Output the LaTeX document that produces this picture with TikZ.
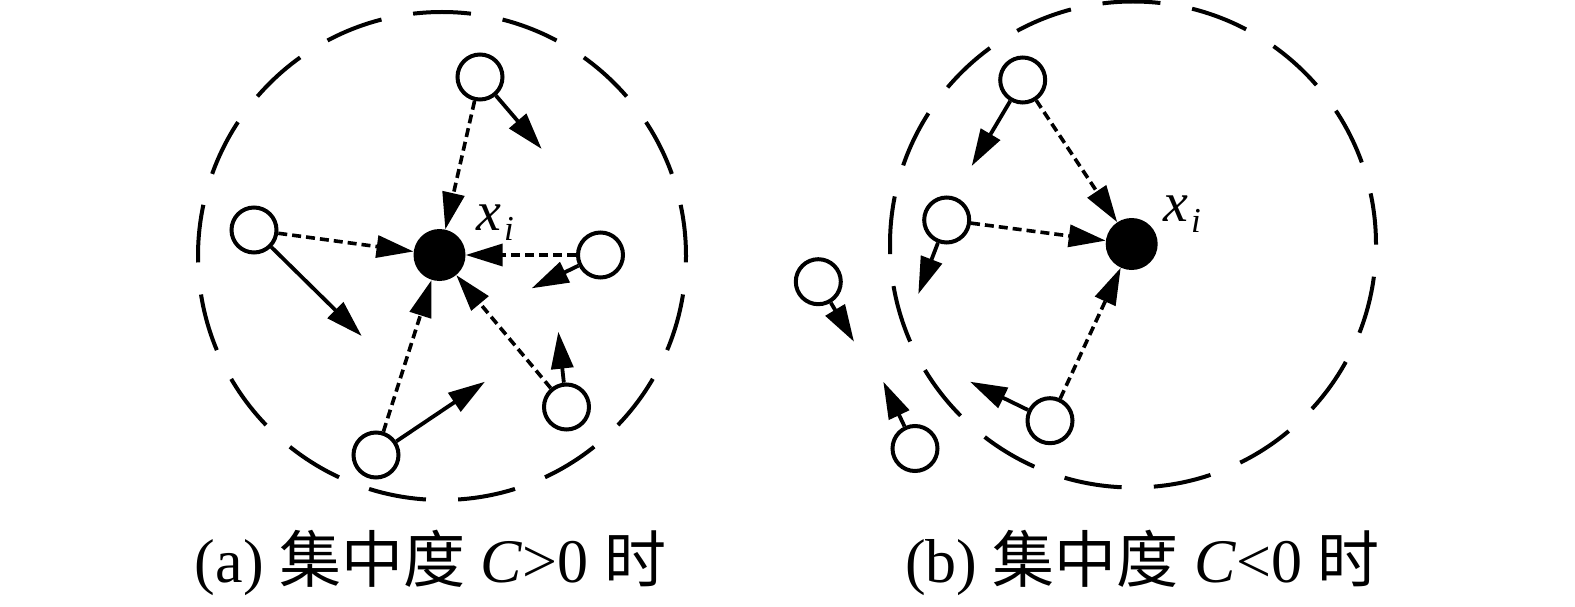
\documentclass[tikz,border=0pt]{standalone}
\usepackage{fontspec}
\setmainfont{Liberation Serif}
\newfontfamily\cjk{Noto Sans CJK SC}
\usetikzlibrary{arrows.meta}
\begin{document}
\begin{tikzpicture}[x=1pt,y=-1pt,
  wnode/.style={circle,draw,line width=4pt,fill=white,minimum size=45pt,inner sep=0pt},
  bnode/.style={circle,fill=black,minimum size=52pt,inner sep=0pt},
  region/.style={line width=4pt,dash pattern=on 58pt off 32.2pt,dash phase=6.5pt},
  pull/.style={line width=3.6pt,dash pattern=on 9pt off 5pt,-{Triangle[length=37pt,width=22pt]}},
  move/.style={line width=3.8pt,-{Triangle[length=37pt,width=22pt]}},
  lab/.style={inner sep=0pt,anchor=base west,font=\fontsize{56}{60}\selectfont\itshape},
  captext/.style={inner sep=0pt,anchor=base,font=\fontsize{62}{70}\selectfont}]
\useasboundingbox (0,0) rectangle (1575,607);
\fill[white] (0,0) rectangle (1575,607);
% regions
\draw[region] (442,256) circle[radius=244pt];
\draw[region] (1133,244.5) circle[radius=243pt];
% left diagram
\node[bnode] (xa) at (439.5,255) {};
\node[wnode] (a1) at (480,77) {};
\node[wnode] (a2) at (254,230) {};
\node[wnode] (a3) at (600.5,255) {};
\node[wnode] (a4) at (566.5,407) {};
\node[wnode] (a5) at (376,455) {};
\coordinate (e1) at (541.7,149);
\coordinate (e2) at (361.7,336);
\coordinate (e3) at (531.7,288.3);
\coordinate (e4) at (558.3,331.7);
\coordinate (e5) at (485,381.7);
\foreach \n in {a1,a2,a3,a4,a5} \draw[pull] (\n) -- (xa);
\draw[move] (a1) -- (e1);
\draw[move] (a2) -- (e2);
\draw[move] (a3) -- (e3);
\draw[move] (a4) -- (e4);
\draw[move] (a5) -- (e5);
\node[lab] (la) at (476,230) {x\kern3pt\raisebox{-10pt}{\fontsize{35}{36}\selectfont i}};
% right diagram
\node[bnode] (xb) at (1131.7,244) {};
\node[wnode] (b1) at (1022.7,80) {};
\node[wnode] (b2) at (946.7,220) {};
\node[wnode] (b3) at (1050,420.7) {};
\node[wnode] (b4) at (915,448.5) {};
\node[wnode] (b5) at (818.3,281.7) {};
\coordinate (f1) at (971.7,166);
\coordinate (f2) at (918.3,294);
\coordinate (f3) at (970,381.7);
\coordinate (f4) at (883.3,381.7);
\coordinate (f5) at (854,341.7);
\foreach \n in {b1,b2,b3} \draw[pull] (\n) -- (xb);
\draw[move] (b1) -- (f1);
\draw[move] (b2) -- (f2);
\draw[move] (b3) -- (f3);
\draw[move] (b4) -- (f4);
\draw[move] (b5) -- (f5);
\node[lab] (lb) at (1163,222) {x\kern3pt\raisebox{-10pt}{\fontsize{35}{36}\selectfont i}};
% captions
\node[captext] (ca) at (430.5,582) {(a) {\cjk 集中度} \textit{C}>0 {\cjk 时}};
\node[captext] (cb) at (1142.5,582) {(b) {\cjk 集中度} \textit{C}<0 {\cjk 时}};
\end{tikzpicture}
\end{document}
